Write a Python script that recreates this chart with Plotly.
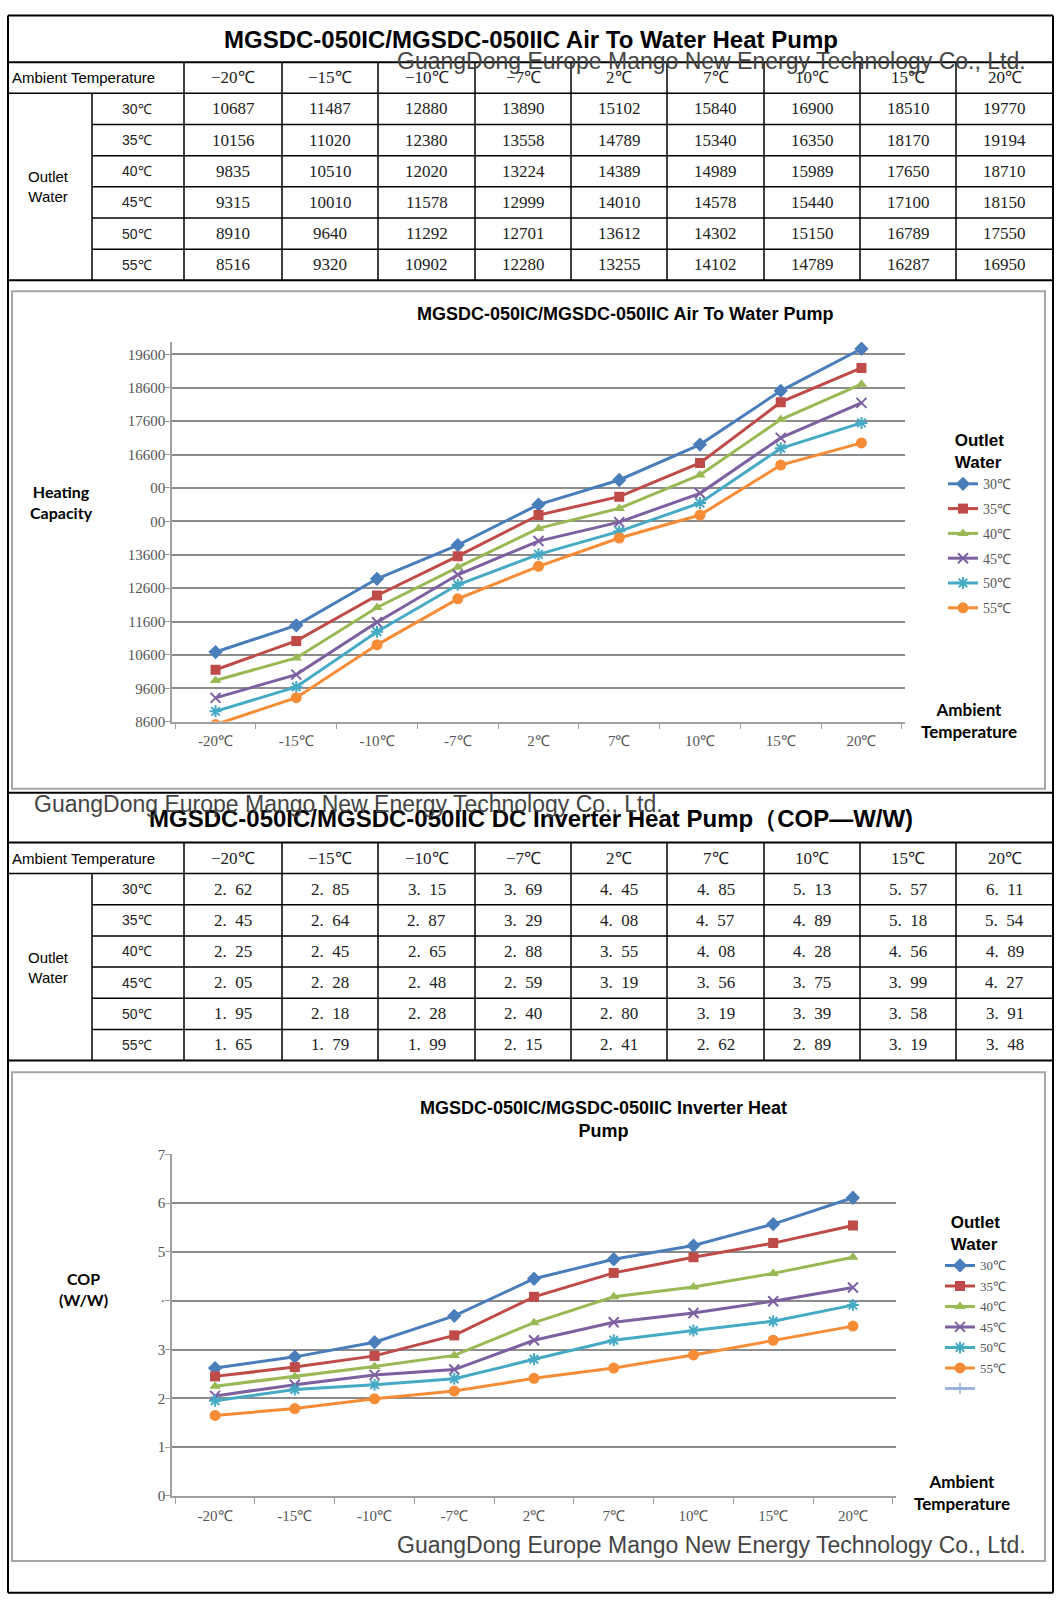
import plotly.graph_objects as go

# ---------------- data ----------------
ambient = ["-20℃", "-15℃", "-10℃", "-7℃", "2℃", "7℃", "10℃", "15℃", "20℃"]
ambient_hdr = ["−20℃", "−15℃", "−10℃", "−7℃", "2℃", "7℃", "10℃", "15℃", "20℃"]
outlet = ["30℃", "35℃", "40℃", "45℃", "50℃", "55℃"]

cap_30 = [10687, 11487, 12880, 13890, 15102, 15840, 16900, 18510, 19770]
cap_35 = [10156, 11020, 12380, 13558, 14789, 15340, 16350, 18170, 19194]
cap_40 = [9835, 10510, 12020, 13224, 14389, 14989, 15989, 17650, 18710]
cap_45 = [9315, 10010, 11578, 12999, 14010, 14578, 15440, 17100, 18150]
cap_50 = [8910, 9640, 11292, 12701, 13612, 14302, 15150, 16789, 17550]
cap_55 = [8516, 9320, 10902, 12280, 13255, 14102, 14789, 16287, 16950]
capacity = [cap_30, cap_35, cap_40, cap_45, cap_50, cap_55]

cop_30 = [2.62, 2.85, 3.15, 3.69, 4.45, 4.85, 5.13, 5.57, 6.11]
cop_35 = [2.45, 2.64, 2.87, 3.29, 4.08, 4.57, 4.89, 5.18, 5.54]
cop_40 = [2.25, 2.45, 2.65, 2.88, 3.55, 4.08, 4.28, 4.56, 4.89]
cop_45 = [2.05, 2.28, 2.48, 2.59, 3.19, 3.56, 3.75, 3.99, 4.27]
cop_50 = [1.95, 2.18, 2.28, 2.40, 2.80, 3.19, 3.39, 3.58, 3.91]
cop_55 = [1.65, 1.79, 1.99, 2.15, 2.41, 2.62, 2.89, 3.19, 3.48]
cop = [cop_30, cop_35, cop_40, cop_45, cop_50, cop_55]

cap_ticks = [8600, 9600, 10600, 11600, 12600, 13600, 14600, 15600, 16600, 17600, 18600, 19600]
cap_ticktext = ["8600", "9600", "10600", "11600", "12600", "13600", "00", "00", "16600", "17600", "18600", "19600"]
cop_ticks = [0, 1, 2, 3, 4, 5, 6, 7]
cop_ticktext = ["0", "1", "2", "3", "·", "5", "6", "7"]

title1 = "MGSDC-050IC/MGSDC-050IIC Air To Water Heat Pump"
title2 = "MGSDC-050IC/MGSDC-050IIC DC Inverter Heat Pump（COP—W/W)"
chart1_title = "MGSDC-050IC/MGSDC-050IIC Air To Water Pump"
chart2_title = "MGSDC-050IC/MGSDC-050IIC Inverter Heat<br>Pump"
company = "GuangDong Europe Mango New Energy Technology Co., Ltd."

# ---------------- styles ----------------
W, H = 1060, 1607
colors = ["#4A7EBB", "#BE4B48", "#98B954", "#7D60A0", "#46AAC5", "#F68C36"]
symbols = ["diamond", "square", "triangle-up", "x-thin", "asterisk", "circle"]
msizes = [11, 10, 10, 10, 10, 11]
SERIF = "Liberation Serif, Times New Roman, serif"
SANS = "Liberation Sans, Arial, sans-serif"
CAL = "Lato, Open Sans, sans-serif"


def px(x):
    return x / W


def py(y):
    # vertical placement calibrated against the rendered page
    yd = (y - 7.6) / 0.991
    return 1 - yd / H


shapes = []
annotations = []


def line(x0, y0, x1, y1, color="black", width=1.5):
    shapes.append(dict(type="line", xref="paper", yref="paper",
                       x0=px(x0), y0=py(y0), x1=px(x1), y1=py(y1),
                       line=dict(color=color, width=width)))


def text(x, y, s, size, family, color="black", xanchor="center", bold=False):
    if bold:
        s = "<b>" + s + "</b>"
    annotations.append(dict(x=px(x), y=py(y), xref="paper", yref="paper", text=s,
                            showarrow=False, xanchor=xanchor, yanchor="middle",
                            font=dict(size=size, family=family, color=color)))


colx = [8, 92, 184, 282, 378, 475, 571, 667, 764, 860, 956, 1053]


def draw_table(top, title_bottom, title, cells):
    row_h = 31.2
    hdr_top = title_bottom
    hdr_bot = hdr_top + 31
    bottom = hdr_bot + 6 * row_h
    line(colx[0], top, colx[-1], top, width=2)
    line(colx[0], hdr_top, colx[-1], hdr_top, width=2)
    line(colx[0], hdr_bot, colx[-1], hdr_bot)
    for i in range(1, 6):
        yy = hdr_bot + i * row_h
        line(colx[1], yy, colx[-1], yy)
    line(colx[0], bottom, colx[-1], bottom, width=2)
    for cx in colx[2:-1]:
        line(cx, hdr_top, cx, bottom)
    line(colx[1], hdr_bot, colx[1], bottom)
    text(531, (top + title_bottom) / 2 + 1, title, 24, SANS, bold=True)
    text(10, (hdr_top + hdr_bot) / 2, "Ambient Temperature", 15, SANS, xanchor="left")
    for j, h in enumerate(ambient_hdr):
        text((colx[j + 2] + colx[j + 3]) / 2, (hdr_top + hdr_bot) / 2, h, 17, SERIF, "#222")
    text(48, (hdr_bot + bottom) / 2, "Outlet<br>Water", 15, SANS)
    for i, o in enumerate(outlet):
        yc = hdr_bot + (i + 0.5) * row_h
        text(137, yc, o, 14, SANS, "#222")
        for j in range(9):
            text((colx[j + 2] + colx[j + 3]) / 2, yc, cells[i][j], 17, SERIF, "#222")
    return bottom


cap_cells = [[str(v) for v in row] for row in capacity]
cop_cells = [[f"{v:.2f}".replace(".", ".\u2002") for v in row] for row in cop]

draw_table(15, 62, title1, cap_cells)
draw_table(793, 843, title2, cop_cells)

# outer border
line(8, 15, 8, 1594, width=2)
line(1053, 15, 1053, 1594, width=2)
line(8, 1594, 1053, 1594, width=2)

# chart boxes
for (y0, y1) in [(291, 789), (1073, 1562)]:
    shapes.append(dict(type="rect", xref="paper", yref="paper",
                       x0=px(12), x1=px(1045), y0=py(y0), y1=py(y1),
                       line=dict(color="#A6A6A6", width=2), fillcolor="rgba(0,0,0,0)"))

# chart titles and axis titles
text(625, 314, chart1_title, 18, SANS, bold=True)
text(603, 1120, chart2_title, 18, SANS, bold=True)
text(61, 502, "Heating<br>Capacity", 16, CAL, bold=True)
text(83, 1290, "COP<br>(W/W)", 16, CAL, bold=True)
text(969, 721, "Ambient<br>Temperature", 17, CAL, bold=True)
text(962, 1494, "Ambient<br>Temperature", 17, CAL, bold=True)

# watermarks
text(711, 61, company, 23, SANS, "#444")
text(348, 804, company, 23, SANS, "#444")
text(711, 1546, company, 23, SANS, "#444")

fig = go.Figure()


def marker(i):
    return dict(symbol=symbols[i], size=msizes[i], color=colors[i],
                line=dict(color=colors[i], width=2 if symbols[i] in ("x-thin", "asterisk") else 0))


for i, name in enumerate(outlet):
    fig.add_trace(go.Scatter(x=ambient, y=capacity[i], name=name, mode="lines+markers",
                             line=dict(color=colors[i], width=3), marker=marker(i),
                             xaxis="x", yaxis="y", legend="legend", legendgroup="a" + name))
for i, name in enumerate(outlet):
    fig.add_trace(go.Scatter(x=ambient, y=cop[i], name=name, mode="lines+markers",
                             line=dict(color=colors[i], width=3), marker=marker(i),
                             xaxis="x2", yaxis="y2", legend="legend2", legendgroup="b" + name))
fig.add_trace(go.Scatter(x=[None], y=[None], name=" ", mode="lines+markers",
                         line=dict(color="#9DB3DB", width=3),
                         marker=dict(symbol="line-ns", size=8, line=dict(color="#9DB3DB", width=1.5)),
                         xaxis="x2", yaxis="y2", legend="legend2", legendgroup="b_extra"))

grid = "#8C8C8C"
axcol = "#A0A0A0"
xcommon = dict(type="category", tickson="boundaries", ticks="outside", ticklen=6,
               tickcolor=axcol, showline=True, linecolor=axcol, linewidth=1.5,
               showgrid=False, ticklabelstandoff=5,
               tickfont=dict(family=SERIF, size=15, color="#555"), fixedrange=True)
ycommon = dict(ticks="outside", ticklen=5, tickcolor=axcol, showline=True, linecolor=axcol,
               linewidth=1.5, showgrid=True, gridcolor=grid, gridwidth=1.5, zeroline=False,
               ticklabelstandoff=-3,
               tickfont=dict(family=SERIF, size=15, color="#555"), tickmode="array")

fig.update_layout(
    width=W, height=H, margin=dict(l=0, r=0, t=0, b=0),
    paper_bgcolor="white", plot_bgcolor="white",
    xaxis=dict(domain=[px(172), px(905)], anchor="y", **xcommon),
    yaxis=dict(domain=[py(722), py(342)], anchor="x", range=[8600, 19970],
               tickvals=cap_ticks, ticktext=cap_ticktext, **ycommon),
    xaxis2=dict(domain=[px(172), px(896)], anchor="y2", **xcommon),
    yaxis2=dict(domain=[py(1497), py(1155)], anchor="x2", range=[0, 7],
                tickvals=cop_ticks, ticktext=cop_ticktext, **ycommon),
    legend=dict(x=px(943), y=py(424), xanchor="left", yanchor="top",
                font=dict(family=SERIF, size=14, color="#555"), tracegroupgap=3.6,
                title=dict(text="<b>Outlet<br>Water</b>", side="top center",
                           font=dict(family=SANS, size=17, color="black")),
                bgcolor="rgba(0,0,0,0)"),
    legend2=dict(x=px(940), y=py(1207), xanchor="left", yanchor="top",
                 font=dict(family=SERIF, size=13, color="#555"), tracegroupgap=0.6,
                 title=dict(text="<b>Outlet<br>Water</b>", side="top center",
                            font=dict(family=SANS, size=17, color="black")),
                 bgcolor="rgba(0,0,0,0)"),
    shapes=shapes, annotations=annotations,
)

fig.write_html("out.html")
